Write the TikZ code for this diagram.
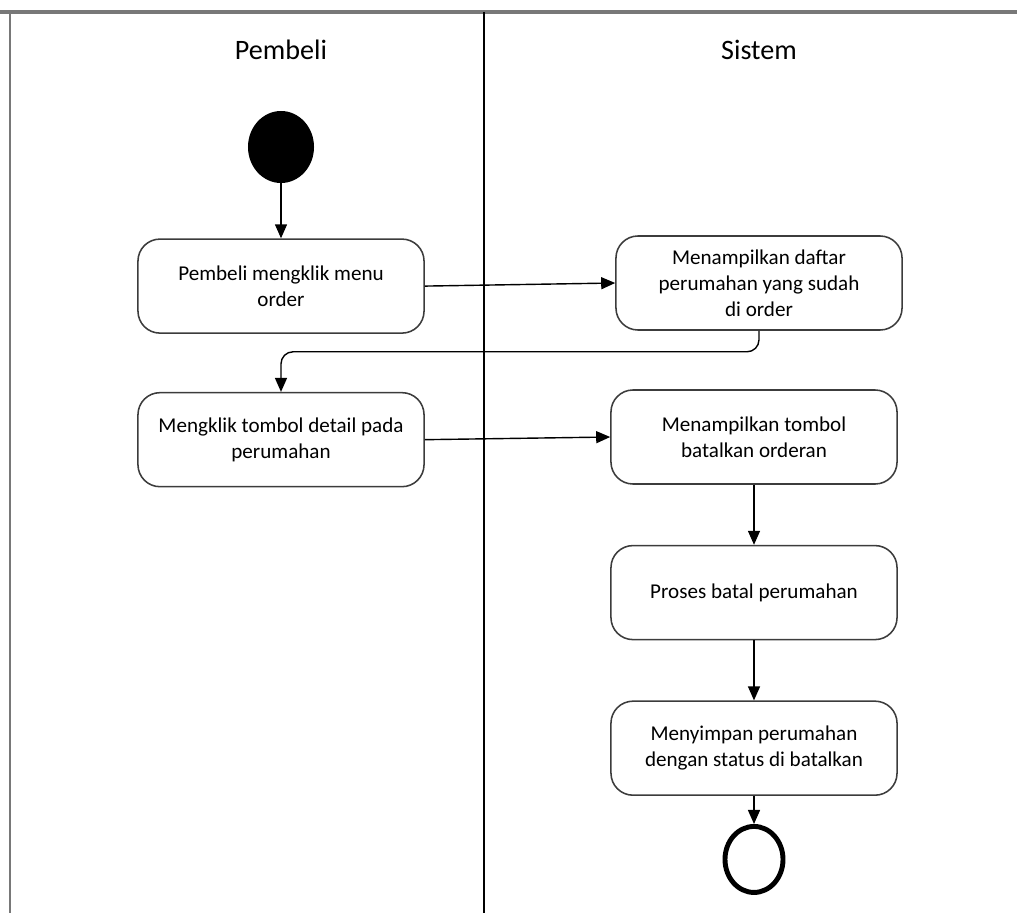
\documentclass[tikz,border=0pt]{standalone}
\usepackage{fontspec}
\setmainfont{Carlito}
\usepackage{tikz}
\usetikzlibrary{shapes.geometric, arrows.meta, positioning}
\definecolor{laneedge}{RGB}{120,120,120}
\definecolor{boxedge}{RGB}{60,60,60}

\begin{document}
\begin{tikzpicture}[
      x=0.025cm, y=-0.025cm,
      box/.style={rectangle, draw=boxedge, line width=1.1pt, rounded corners=0.55cm, minimum width=7.15cm, minimum height=2.35cm, align=center, font=\fontsize{15}{18.5}\selectfont},
      startnode/.style={ellipse, fill=black, minimum width=1.65cm, minimum height=1.8cm, inner sep=0pt},
      endnode/.style={ellipse, draw, line width=3.5pt, minimum width=1.45cm, minimum height=1.65cm, inner sep=0pt},
      lanetitle/.style={font=\fontsize{20}{24}\selectfont},
      arrow/.style={-{Triangle[length=0.35cm, width=0.3cm]}, line width=1pt}
    ]
      \useasboundingbox (0,0) rectangle (1017,913);

      % Swimlanes
      \draw[laneedge, line width=2.5pt] (0,12) -- (1017,12);
      \draw[laneedge, line width=2pt] (10,12) -- (10,913);
      \draw[line width=1pt] (484,12) -- (484,913);
      \node[lanetitle] (pembeli) at (281,50) {Pembeli};
      \node[lanetitle] (sistem) at (759,50) {Sistem};

      % Pembeli
      \node[startnode] (start) at (281,147) {};
      \node[box, below=1.375cm of start] (klik) {Pembeli mengklik menu\\order};
      \node[box, below=1.45cm of klik] (detail) {Mengklik tombol detail pada\\perumahan};

      % Sistem
      \node[box] (daftar) at (759,283) {Menampilkan daftar\\perumahan yang sudah\\di order};
      \node[box] (tombol) at (754,437) {Menampilkan tombol\\batalkan orderan};
      \node[box, below=1.5cm of tombol] (proses) {Proses batal perumahan};
      \node[box, below=1.5cm of proses] (simpan) {Menyimpan perumahan\\dengan status di batalkan};
      \node[endnode, below=0.7cm of simpan] (finish) {};

      % Arrows
      \draw[arrow] (start) -- (klik);
      \draw[arrow] (klik.east) -- (daftar.west);
      \draw[arrow, rounded corners=0.3cm] (daftar.south) -- ++(0,21) -| (detail.north);
      \draw[arrow] (detail.east) -- (tombol.west);
      \draw[arrow] (tombol) -- (proses);
      \draw[arrow] (proses) -- (simpan);
      \draw[arrow] (simpan) -- (finish);

    \end{tikzpicture}
\end{document}
